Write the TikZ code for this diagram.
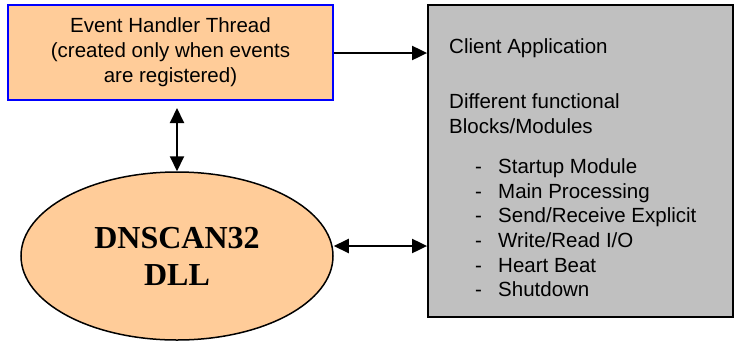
\documentclass[tikz,border=0pt]{standalone}
\usepackage{fontspec}
\setmainfont{Liberation Sans}
\newfontfamily\serifbold{Liberation Serif}
\usetikzlibrary{arrows.meta,shapes.geometric}
\definecolor{peach}{HTML}{FFCC99}
\definecolor{boxgray}{HTML}{C0C0C0}
\tikzset{
  link/.style={line width=2pt,{Triangle[length=15pt,width=14pt]}-{Triangle[length=15pt,width=14pt]}},
  linkone/.style={line width=2pt,-{Triangle[length=15pt,width=14pt]}},
  body/.style={font=\fontsize{20.5}{25}\selectfont},
  item/.style={body,anchor=base west,inner sep=0pt},
}
\begin{document}
\begin{tikzpicture}[x=1pt,y=-1pt]
\useasboundingbox (0,0) rectangle (734,341);
% event thread box
\node[draw=blue,line width=1.5pt,fill=peach,minimum width=325pt,minimum height=95pt,
      inner sep=0pt,align=center,body] (thread) at (170.5,52.5)
  {Event Handler Thread\\(created only when events\\are registered)};
% client application box
\node[draw=black,line width=1.8pt,fill=boxgray,minimum width=305pt,minimum height=312pt,
      inner sep=0pt] (app) at (580.5,161) {};
% DLL ellipse
\node[ellipse,draw=black,line width=1.5pt,fill=peach,minimum width=312pt,minimum height=168pt,
      inner sep=0pt,align=center,font=\serifbold\bfseries\fontsize{32}{37}\selectfont] (dll) at (177,256)
  {DNSCAN32\\DLL};
% texts of the client box
\node[item] (t1) at (449,53) {Client Application};
\node[item] (t2) at (449,108) {Different functional};
\node[item] (t3) at (449,133) {Blocks/Modules};
\foreach \y [count=\i] in {173,198,222,247,272,296}
  \node[item] (d\i) at (475,\y) {-};
\node[item] (m1) at (498,173) {Startup Module};
\node[item] (m2) at (498,198) {Main Processing};
\node[item] (m3) at (498,222) {Send/Receive Explicit};
\node[item] (m4) at (498,247) {Write/Read I/O};
\node[item] (m5) at (498,272) {Heart Beat};
\node[item] (m6) at (498,296) {Shutdown};
% connectors
\coordinate (vtop) at (177,108);
\draw[linkone] (thread.east |- 0,53) -- (app.west |- 0,53);
\draw[link] (vtop) -- (dll.north);
\draw[link] ([yshift=10pt]dll.east) -- (app.west |- 0,246);
\end{tikzpicture}
\end{document}
